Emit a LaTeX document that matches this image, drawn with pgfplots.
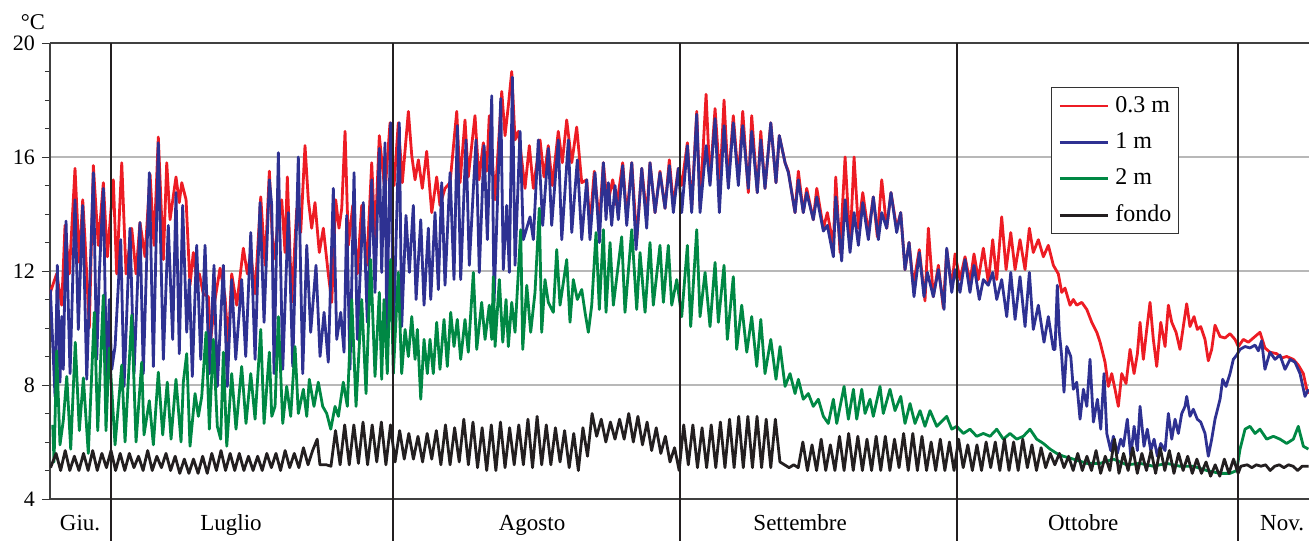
\documentclass[border=0pt]{standalone}
\usepackage{fontspec}
\setmainfont{Liberation Serif}
\usepackage{pgfplots}
\pgfplotsset{compat=1.18}
\definecolor{cred}{RGB}{237,28,36}
\definecolor{cblue}{RGB}{46,49,146}
\definecolor{cgreen}{RGB}{0,136,68}
\definecolor{cblack}{RGB}{35,31,32}
\begin{document}
\begin{tikzpicture}
\begin{axis}[
  name=ax,
  scale only axis, width=629.5pt, height=228pt,
  xmin=-6.66, xmax=130.74, ymin=4, ymax=20,
  axis y line*=left,
  xtick=\empty,
  ytick={4,8,12,16,20},
  minor y tick num=3,
  ymajorgrids,
  grid style={draw=black!28, line width=0.7pt},
  tick align=outside,
  major tick length=4pt, minor tick length=2.5pt,
  every tick/.style={black!80, line width=0.5pt},
  axis line style={black!75, line width=0.6pt},
  /pgf/number format/assume math mode=true,
  yticklabel style={font=\fontsize{11}{12}\selectfont},
  legend cell align=left,
  legend image code/.code={\draw[#1] (0pt,0pt) -- (24pt,0pt);},
  legend style={at={(0.795,0.9035)}, anchor=north west,
    draw=black!80, line width=0.6pt, fill=white,
    font=\fontsize{12}{13}\selectfont,
    inner xsep=3.5pt, inner ysep=4.2pt, row sep=8.2pt, column sep=3pt,
    nodes={inner sep=0pt, text height=8pt, text depth=2pt}},
  every axis plot/.append style={line width=1.4pt, line join=round},
]
\addplot[cred] coordinates {
(-6.66,11.2) (-6.47,11.4) (-5.93,11.9) (-5.38,10.8) (-5.02,13.6) (-4.55,11.9) (-3.93,15.6) (-3.46,12.3)
(-3.09,14.5) (-2.84,13.1) (-2.37,10.0) (-1.93,15.7) (-1.39,12.9) (-0.84,15.1) (-0.40,12.5) (0.25,15.2)
(0.62,11.9) (1.17,15.8) (1.64,11.9) (2.26,13.5) (2.73,11.9) (3.16,13.7) (3.71,12.5) (4.26,15.4)
(4.69,12.9) (5.16,16.7) (5.71,12.4) (6.08,15.8) (6.44,13.8) (7.09,15.3) (7.45,14.4) (7.72,15.1)
(8.19,14.5) (8.62,11.5) (8.98,12.65) (9.35,11.7) (9.64,11.9) (10.07,11.2) (10.62,11.1) (10.88,9.6)
(11.35,11.0) (11.90,12.1) (12.44,11.1) (12.80,9.4) (13.17,11.9) (13.72,10.8) (14.44,12.8) (14.88,11.9)
(15.25,12.65) (15.72,11.2) (16.34,14.6) (16.81,12.2) (17.28,15.5) (17.71,12.4) (18.63,14.5) (18.99,12.65)
(19.24,15.3) (19.72,10.9) (20.27,14.2) (20.70,13.35) (21.17,16.4) (21.53,14.5) (21.90,13.5) (22.26,14.4)
(22.73,12.65) (23.17,13.5) (23.71,11.9) (24.09,10.9) (24.52,14.5) (24.88,13.5) (25.18,14.2) (25.54,16.9)
(25.90,12.9) (26.38,14.3) (26.88,11.9) (27.36,14.3) (27.91,12.2) (28.45,15.8) (28.81,13.1) (29.28,16.75)
(29.90,14.75) (30.45,17.2) (30.89,15.0) (31.35,17.2) (31.79,15.1) (32.45,17.6) (32.82,16.05) (33.18,15.2)
(33.54,15.9) (33.97,14.9) (34.45,16.2) (35.00,14.05) (35.54,15.3) (35.90,14.3) (36.45,14.9) (37.00,15.1)
(37.73,17.6) (38.09,15.1) (38.63,17.3) (38.99,15.3) (39.72,17.45) (40.16,15.2) (40.63,16.5) (41.00,15.5)
(41.28,17.45) (41.91,14.5) (42.64,18.3) (43.00,16.75) (43.36,17.8) (43.73,19.0) (44.09,16.6) (44.45,16.9)
(44.82,15.9) (45.18,14.9) (45.65,16.4) (46.09,14.9) (46.82,16.6) (47.25,15.3) (47.72,16.4) (48.16,15.0)
(48.81,16.9) (49.25,15.8) (49.73,17.3) (50.28,15.8) (50.82,17.05) (51.37,15.1) (51.91,15.2) (52.27,13.6)
(52.74,15.5) (53.29,13.7) (53.73,15.8) (54.16,14.3) (54.75,15.2) (55.19,14.3) (55.84,15.8) (56.28,13.9)
(56.83,15.8) (57.37,13.1) (57.92,15.6) (58.46,13.9) (58.82,15.8) (59.37,14.05) (59.91,15.5) (60.46,14.2)
(60.93,15.9) (61.37,14.3) (61.91,15.6) (62.28,15.0) (62.90,16.5) (63.37,14.2) (63.92,17.6) (64.28,14.3)
(64.94,18.2) (65.37,15.1) (65.92,17.7) (66.46,15.1) (66.90,18.0) (67.37,15.1) (67.91,17.45) (68.46,15.2)
(68.94,17.6) (69.55,14.75) (69.92,17.45) (70.53,14.75) (70.91,16.9) (71.37,14.9) (72.00,17.2) (72.57,15.1)
(72.93,16.75) (73.56,15.8) (73.92,15.5) (74.65,14.05) (75.01,15.5) (75.55,14.05) (75.92,14.9) (76.64,13.8)
(77.02,14.9) (77.74,13.5) (78.17,14.05) (78.83,12.9) (79.09,15.3) (79.56,12.65) (80.11,16.0) (80.65,12.9)
(81.09,16.0) (81.56,13.5) (82.04,14.75) (82.65,13.35) (83.19,14.6) (83.63,13.2) (84.11,15.2) (84.65,13.5)
(85.12,14.75) (85.74,13.5) (86.18,14.05) (86.65,12.05) (87.09,13.0) (87.56,11.5) (88.21,12.75) (88.83,10.95)
(89.20,13.5) (89.74,11.1) (90.29,12.2) (90.83,10.7) (91.20,12.75) (91.75,11.4) (92.11,12.6) (92.65,11.7)
(93.20,12.5) (93.74,11.6) (94.18,12.6) (94.65,11.7) (95.20,12.8) (95.74,11.6) (96.22,13.1) (96.66,11.7)
(97.20,13.9) (97.68,12.05) (98.19,13.35) (98.66,12.05) (99.20,13.1) (99.75,12.05) (100.22,13.5) (100.65,12.65)
(101.20,13.1) (101.75,12.5) (102.29,12.9) (102.84,12.2) (103.38,11.9) (103.75,11.25) (104.11,11.4) (104.66,10.8)
(105.02,11.0) (105.39,10.8) (105.94,10.9) (106.49,10.65) (107.03,10.2) (107.58,9.85) (107.94,9.5) (108.48,8.8)
(108.84,7.95) (109.21,8.4) (109.57,7.85) (109.93,7.25) (110.30,8.4) (110.77,8.05) (111.21,9.25) (111.65,8.4)
(112.01,9.1) (112.30,10.2) (112.66,8.9) (113.03,9.95) (113.39,10.9) (113.75,9.6) (114.12,8.65) (114.56,10.2)
(115.03,9.35) (115.39,10.8) (115.76,10.2) (116.23,9.85) (116.66,9.25) (117.02,10.05) (117.39,10.85) (117.75,10.05)
(118.19,10.4) (118.55,9.95) (118.92,10.05) (119.39,9.6) (119.75,8.85) (120.12,9.25) (120.48,10.1) (121.03,9.7)
(121.57,9.65) (122.12,9.8) (122.66,9.6) (123.03,9.35) (123.57,9.6) (124.12,9.5) (124.66,9.65) (125.39,9.85)
(125.93,9.3) (126.48,9.15) (127.21,9.1) (127.76,8.95) (128.30,9.0) (129.03,8.9) (129.57,8.7) (130.12,8.4)
(130.49,7.85) (130.74,7.7)
};
\addlegendentry{0.3 m}
\addplot[cblue] coordinates {
(-6.62,11.35) (-6.11,7.6) (-5.86,12.2) (-5.57,8.1) (-5.38,10.4) (-5.21,8.55) (-4.91,13.75) (-4.47,8.4)
(-3.93,14.5) (-3.57,9.95) (-3.09,14.3) (-2.65,8.2) (-1.93,15.45) (-1.56,8.9) (-1.28,11.9) (-0.84,14.9)
(-0.47,7.95) (-0.19,11.0) (0.08,8.55) (0.44,9.35) (1.06,13.1) (1.42,7.95) (2.07,13.5) (2.51,8.4)
(3.16,13.7) (3.52,8.4) (4.18,15.45) (4.62,8.65) (5.16,16.5) (5.71,8.9) (6.25,13.6) (6.73,9.6)
(7.09,14.75) (7.45,9.1) (7.82,14.3) (8.26,9.85) (8.55,11.7) (8.87,8.3) (9.35,12.9) (9.79,8.9)
(10.26,12.9) (10.73,8.4) (11.24,12.2) (11.60,7.95) (12.26,12.2) (12.69,7.95) (13.17,11.7) (13.61,8.9)
(14.26,11.7) (14.70,9.0) (15.25,13.35) (15.72,8.9) (16.26,14.4) (16.70,10.2) (17.28,15.2) (17.54,14.3)
(17.79,8.4) (18.26,16.15) (18.74,8.55) (19.35,14.05) (19.83,8.65) (20.44,16.0) (20.92,8.4) (21.36,12.9)
(21.79,9.85) (22.37,12.2) (22.81,9.0) (23.25,10.55) (23.71,8.8) (24.26,14.9) (24.63,9.6) (25.07,10.55)
(25.43,9.15) (25.72,13.95) (26.08,8.55) (26.52,15.45) (26.88,9.6) (27.53,14.4) (27.97,10.2) (28.45,15.2)
(28.81,11.25) (29.28,16.3) (29.54,11.95) (29.90,16.5) (30.09,9.85) (30.52,17.2) (30.81,9.6) (31.46,17.2)
(31.72,10.05) (32.19,13.95) (32.56,11.95) (32.99,14.3) (33.29,11.0) (33.80,13.8) (34.16,10.8) (34.63,13.5)
(34.89,11.0) (35.36,14.05) (35.72,11.35) (36.09,15.1) (36.45,11.5) (37.00,15.45) (37.43,11.7) (37.79,17.1)
(38.16,11.7) (38.74,16.6) (39.10,12.2) (39.83,16.6) (40.19,11.95) (40.71,16.4) (41.07,13.1) (41.55,18.15)
(41.80,10.9) (42.16,14.3) (42.53,18.05) (42.81,12.05) (43.18,14.3) (43.47,11.95) (43.80,18.8) (44.09,12.2)
(44.64,16.9) (45.00,13.1) (45.73,13.9) (46.09,13.1) (46.63,16.6) (47.11,13.6) (47.72,16.3) (48.09,13.6)
(48.81,16.6) (49.19,13.1) (49.91,16.6) (50.28,13.35) (50.89,15.9) (51.37,13.1) (51.91,15.2) (52.27,13.1)
(52.82,15.45) (53.29,13.0) (53.73,15.8) (54.02,13.8) (54.27,15.1) (54.64,13.6) (55.00,15.0) (55.36,13.8)
(55.84,15.7) (56.28,13.6) (56.83,15.8) (57.30,12.75) (57.92,15.6) (58.46,13.5) (58.82,15.8) (59.37,14.05)
(59.91,15.45) (60.46,14.2) (60.93,15.7) (61.37,14.05) (61.91,15.6) (62.28,14.05) (62.90,16.4) (63.37,14.05)
(63.92,17.5) (64.28,14.05) (64.94,16.4) (65.37,15.0) (65.92,17.35) (66.39,14.05) (66.90,17.1) (67.37,14.9)
(67.91,17.2) (68.46,15.0) (68.94,17.1) (69.55,14.9) (69.92,16.9) (70.53,14.75) (70.91,16.6) (71.37,14.9)
(72.00,17.2) (72.57,15.1) (72.93,16.75) (73.56,15.8) (73.92,15.45) (74.65,14.05) (75.01,15.2) (75.55,14.05)
(75.92,14.75) (76.64,13.8) (77.02,14.6) (77.74,13.4) (78.17,13.6) (78.83,12.5) (79.09,14.6) (79.74,12.35)
(80.11,14.5) (80.65,12.65) (81.09,14.05) (81.56,12.9) (82.04,14.4) (82.65,13.1) (83.19,14.6) (83.74,13.1)
(84.11,14.05) (84.65,13.5) (85.12,14.75) (85.74,13.35) (86.18,14.05) (86.65,12.05) (87.09,13.0) (87.63,11.1)
(88.21,12.65) (88.72,11.1) (89.09,11.95) (89.74,11.1) (90.29,12.05) (90.91,10.65) (91.20,12.8) (91.75,11.25)
(92.11,12.05) (92.65,11.25) (93.20,12.4) (93.74,11.25) (94.18,12.2) (94.76,11.0) (95.20,11.7) (95.74,11.5)
(96.22,11.95) (96.66,11.0) (97.20,11.7) (97.75,10.4) (98.19,11.95) (98.66,10.3) (99.20,11.8) (99.75,10.05)
(100.22,11.95) (100.65,9.95) (101.20,10.8) (101.82,9.5) (102.29,10.4) (102.84,9.25) (103.02,9.25) (103.27,11.5)
(103.49,9.85) (103.75,9.0) (104.00,7.75) (104.30,9.35) (104.74,9.0) (105.02,7.85) (105.39,8.1) (105.75,6.8)
(106.12,7.85) (106.49,7.25) (106.84,8.9) (107.21,6.7) (107.65,7.5) (108.01,6.45) (108.37,8.4) (108.67,6.3)
(109.10,5.7) (109.39,6.2) (109.82,5.6) (110.19,6.1) (110.48,5.85) (110.91,6.8) (111.29,5.5) (111.65,6.55)
(112.01,5.7) (112.30,7.25) (112.73,5.85) (113.09,6.45) (113.47,5.7) (113.83,6.1) (114.19,5.5) (114.56,5.95)
(115.03,5.7) (115.39,7.0) (115.76,6.1) (116.12,6.8) (116.48,6.3) (116.85,7.0) (117.21,7.25) (117.39,7.6)
(117.75,6.9) (118.11,7.15) (118.55,6.8) (118.92,6.7) (119.39,6.3) (119.75,5.5) (120.12,6.1) (120.48,6.8)
(121.03,7.5) (121.32,8.2) (121.68,7.95) (122.12,8.4) (122.48,8.9) (122.85,9.05) (123.21,9.25) (123.76,9.35)
(124.30,9.3) (124.85,9.4) (125.21,9.2) (125.57,9.55) (125.93,8.55) (126.48,9.15) (127.03,8.9) (127.57,9.05)
(128.12,8.55) (128.67,8.9) (129.21,8.8) (129.76,8.4) (130.30,7.6) (130.67,7.85)
};
\addlegendentry{1 m}
\addplot[cgreen] coordinates {
(-6.36,6.6) (-6.22,5.3) (-5.93,9.2) (-5.57,5.9) (-5.21,6.75) (-4.83,8.3) (-4.40,5.75) (-3.90,9.5)
(-3.46,6.4) (-3.02,8.25) (-2.48,5.6) (-1.82,10.55) (-1.45,6.4) (-0.84,11.15) (-0.55,6.4) (-0.19,9.3)
(0.44,5.9) (1.17,8.7) (1.53,6.0) (2.26,10.45) (2.73,6.0) (3.35,8.8) (3.60,6.25) (4.18,7.45)
(4.62,5.9) (5.16,8.45) (5.64,6.25) (6.14,8.1) (6.55,6.1) (7.09,8.2) (7.64,6.0) (7.89,8.1)
(8.26,9.1) (8.62,5.85) (9.17,7.7) (9.53,6.9) (9.90,7.6) (10.37,9.85) (10.73,6.45) (11.16,9.6)
(11.60,6.55) (11.97,6.1) (12.26,9.15) (12.63,5.85) (13.17,8.4) (13.64,6.45) (14.26,8.65) (14.73,6.65)
(15.25,8.4) (15.72,6.8) (16.34,9.95) (16.70,6.65) (17.28,9.15) (17.54,6.9) (17.90,7.25) (18.26,10.4)
(18.74,6.65) (19.17,7.95) (19.61,6.9) (20.08,9.35) (20.44,7.0) (20.99,7.85) (21.36,6.9) (21.64,8.2)
(22.15,7.25) (22.62,8.1) (23.10,7.25) (23.54,7.0) (23.98,6.45) (24.45,7.25) (24.81,6.9) (25.35,8.1)
(25.79,7.25) (26.27,11.0) (26.74,7.25) (27.36,11.0) (27.83,7.7) (28.34,12.4) (28.81,8.3) (29.28,11.25)
(29.54,8.2) (29.79,11.0) (30.15,8.4) (30.52,12.4) (30.81,8.4) (31.35,11.95) (31.72,8.4) (32.09,9.95)
(32.45,9.0) (32.82,10.4) (33.18,8.9) (33.43,9.95) (33.80,7.5) (34.16,9.6) (34.52,8.4) (34.81,9.6)
(35.17,8.4) (35.54,10.2) (35.90,8.55) (36.34,10.3) (36.70,8.65) (37.07,10.55) (37.43,9.35) (37.79,10.3)
(38.16,8.9) (38.63,10.3) (38.99,9.15) (39.54,11.95) (39.91,9.25) (40.45,10.9) (40.82,9.6) (41.28,10.8)
(41.55,9.6) (41.72,11.8) (41.91,9.35) (42.38,11.7) (42.75,9.5) (43.11,11.0) (43.36,9.35) (43.73,10.9)
(44.09,9.85) (44.71,13.45) (44.93,9.25) (45.37,11.5) (45.80,9.85) (46.27,11.25) (46.74,14.2) (47.00,9.85)
(47.36,11.7) (47.72,10.9) (48.27,10.55) (48.64,12.75) (49.00,10.8) (49.73,12.4) (50.09,10.2) (50.45,11.7)
(50.89,11.0) (51.37,11.35) (51.73,10.55) (52.09,9.85) (52.46,10.8) (52.93,13.35) (53.29,10.65) (53.73,13.45)
(54.02,10.55) (54.46,13.0) (54.82,10.8) (55.73,13.2) (56.09,10.55) (56.83,13.45) (57.37,10.65) (57.73,12.65)
(58.28,10.55) (58.82,13.0) (59.18,10.8) (59.91,12.9) (60.28,10.9) (60.82,12.9) (61.19,10.8) (61.74,11.7)
(62.28,10.4) (62.90,12.9) (63.26,10.05) (63.92,13.45) (64.28,10.4) (64.83,11.95) (65.37,10.05) (65.92,12.3)
(66.28,10.2) (66.90,12.2) (67.26,9.6) (67.91,11.8) (68.28,9.25) (68.83,10.8) (69.38,9.15) (69.92,10.4)
(70.47,8.65) (70.91,10.3) (71.37,8.4) (72.00,9.6) (72.57,8.2) (73.01,9.35) (73.56,7.95) (74.10,8.4)
(74.65,7.7) (75.01,8.2) (75.55,7.5) (76.10,7.7) (76.64,7.25) (77.19,7.5) (77.74,6.9) (78.28,6.65)
(78.83,7.5) (79.20,6.65) (79.63,7.35) (80.00,7.95) (80.47,6.8) (81.02,7.85) (81.38,6.8) (81.93,7.85)
(82.29,7.0) (82.83,7.5) (83.19,6.9) (83.92,7.95) (84.28,7.0) (85.01,7.85) (85.56,7.1) (86.18,7.6)
(86.65,6.65) (87.20,7.35) (87.74,6.65) (88.29,7.1) (88.83,6.55) (89.38,7.1) (90.11,6.55) (91.20,6.9)
(91.75,6.45) (92.29,6.55) (93.02,6.3) (93.74,6.45) (94.47,6.2) (95.20,6.3) (95.93,6.2) (96.66,6.45)
(97.38,6.1) (98.11,6.3) (98.84,6.1) (99.56,6.2) (100.29,6.45) (101.02,6.1) (101.75,5.95) (102.48,5.75)
(103.21,5.6) (103.93,5.5) (105.02,5.4) (106.49,5.25) (107.94,5.25) (109.39,5.4) (110.85,5.2) (112.30,5.25)
(113.75,5.15) (115.21,5.25) (116.66,5.15) (118.11,5.15) (119.58,5.0) (121.03,4.9) (122.12,4.9) (122.85,5.0)
(123.21,5.75) (123.76,6.45) (124.30,6.55) (124.85,6.3) (125.39,6.45) (126.12,6.1) (126.85,6.2) (127.57,6.1)
(128.30,5.95) (129.03,6.1) (129.57,6.55) (130.12,5.85) (130.67,5.75)
};
\addlegendentry{2 m}
\addplot[cblack] coordinates {
(-6.6,5.1) (-6.0,5.6) (-5.5,5.0) (-5.0,5.7) (-4.5,5.0) (-4.0,5.5) (-3.5,5.0) (-3.0,5.6)
(-2.5,5.0) (-2.0,5.7) (-1.5,5.0) (-1.0,5.6) (-0.5,5.1) (0.0,5.7) (0.5,5.0) (1.0,5.6)
(1.5,5.0) (2.0,5.6) (2.5,5.1) (3.0,5.5) (3.5,5.0) (4.0,5.7) (4.5,5.0) (5.0,5.5)
(5.5,5.1) (6.0,5.6) (6.5,5.0) (7.0,5.5) (7.5,4.9) (8.0,5.4) (8.5,4.9) (9.0,5.4)
(9.5,4.9) (10.0,5.5) (10.5,4.9) (11.0,5.6) (11.5,5.0) (12.0,5.7) (12.5,5.0) (13.0,5.6)
(13.5,5.0) (14.0,5.6) (14.5,5.0) (15.0,5.5) (15.5,5.0) (16.0,5.5) (16.5,5.0) (17.0,5.6)
(17.5,5.1) (18.0,5.6) (18.5,5.0) (19.0,5.7) (19.5,5.1) (20.0,5.6) (20.5,5.1) (21.0,5.8)
(21.5,5.2) (22.0,5.7) (22.5,6.1) (22.8,5.2) (23.5,5.2) (24.0,5.15) (24.5,6.4) (25.0,5.2)
(25.5,6.6) (26.0,5.2) (26.5,6.6) (27.0,5.25) (27.5,6.7) (28.0,5.2) (28.5,6.6) (29.0,5.3)
(29.5,6.7) (30.0,5.2) (30.5,6.6) (31.0,5.3) (31.5,6.4) (32.0,5.4) (32.5,6.3) (33.0,5.4)
(33.5,6.2) (34.0,5.3) (34.5,6.3) (35.0,5.4) (35.5,6.4) (36.0,5.2) (36.5,6.6) (37.0,5.2)
(37.5,6.5) (38.0,5.3) (38.5,6.8) (39.0,5.2) (39.5,6.7) (40.0,5.1) (40.5,6.5) (41.0,5.0)
(41.5,6.6) (42.0,5.0) (42.5,6.7) (43.0,5.1) (43.5,6.5) (44.0,5.2) (44.5,6.6) (45.0,5.2)
(45.5,6.8) (46.0,5.1) (46.5,6.9) (47.0,5.2) (47.5,6.6) (48.0,5.2) (48.5,6.5) (49.0,5.3)
(49.5,6.4) (50.0,5.1) (50.5,6.3) (51.0,5.0) (51.5,6.5) (52.0,5.5) (52.5,7.0) (53.0,6.2)
(53.5,6.8) (54.0,6.0) (54.5,6.7) (55.0,6.1) (55.5,6.8) (56.0,6.1) (56.5,7.0) (57.0,6.0)
(57.5,6.9) (58.0,5.9) (58.5,6.7) (59.0,5.7) (59.5,6.5) (60.0,5.6) (60.5,6.2) (61.0,5.3)
(61.5,5.8) (62.0,5.0) (62.5,6.6) (63.0,5.2) (63.5,6.6) (64.0,5.1) (64.5,6.5) (65.0,5.1)
(65.5,6.6) (66.0,5.1) (66.5,6.7) (67.0,5.1) (67.5,6.8) (68.0,5.1) (68.5,6.9) (69.0,5.1)
(69.5,6.9) (70.0,5.1) (70.5,6.9) (71.0,5.1) (71.5,6.8) (72.0,5.1) (72.5,6.8) (73.0,5.3)
(73.5,5.2) (74.0,5.1) (74.5,5.2) (75.0,5.1) (75.5,6.0) (76.0,5.0) (76.5,5.9) (77.0,5.0)
(77.5,6.1) (78.0,5.0) (78.5,5.9) (79.0,5.0) (79.5,6.2) (80.0,5.0) (80.5,6.3) (81.0,5.0)
(81.5,6.2) (82.0,5.0) (82.5,6.1) (83.0,5.0) (83.5,6.2) (84.0,5.0) (84.5,6.2) (85.0,5.0)
(85.5,6.1) (86.0,5.1) (86.5,6.3) (87.0,5.0) (87.5,6.3) (88.0,5.0) (88.5,6.2) (89.0,5.0)
(89.5,6.0) (90.0,5.0) (90.5,6.1) (91.0,5.0) (91.5,6.0) (92.0,5.0) (92.5,6.1) (93.0,5.1)
(93.5,5.9) (94.0,5.0) (94.5,5.9) (95.0,5.0) (95.5,6.0) (96.0,5.1) (96.5,6.0) (97.0,5.0)
(97.5,6.1) (98.0,5.0) (98.5,6.0) (99.0,5.0) (99.5,6.1) (100.0,5.1) (100.5,5.9) (101.0,5.0)
(101.5,5.8) (102.0,5.1) (102.5,5.6) (103.0,5.2) (103.5,5.6) (104.0,5.1) (104.5,5.5) (105.0,5.0)
(105.5,5.6) (106.0,5.0) (106.5,5.5) (107.0,5.0) (107.5,5.7) (108.0,4.9) (108.5,5.5) (109.0,5.0)
(109.5,6.1) (110.0,4.9) (110.5,5.6) (111.0,5.0) (111.5,5.8) (112.0,4.9) (112.5,5.6) (113.0,5.0)
(113.5,5.7) (114.0,4.9) (114.5,5.8) (115.0,5.0) (115.5,5.7) (116.0,4.9) (116.5,5.6) (117.0,5.0)
(117.5,5.5) (118.0,4.9) (118.5,5.4) (119.0,4.9) (119.5,5.3) (120.0,4.8) (120.5,5.2) (121.0,4.8)
(121.5,5.4) (122.0,4.9) (122.5,5.4) (123.0,4.9) (123.3,5.15) (124.0,5.2) (124.5,5.1) (125.0,5.2)
(125.5,5.15) (126.0,5.2) (126.5,5.0) (127.0,5.15) (127.5,5.2) (128.0,5.1) (128.5,5.2) (129.0,5.15)
(129.5,5.0) (130.0,5.15) (130.7,5.15)
};
\addlegendentry{fondo}
\coordinate (SW) at (rel axis cs:0,0);
\coordinate (NE) at (rel axis cs:1,1);
\coordinate (m0) at (axis cs:0,4);
\coordinate (m1) at (axis cs:30.78,4);
\coordinate (m2) at (axis cs:62.1,4);
\coordinate (m3) at (axis cs:92.33,4);
\coordinate (m4) at (axis cs:123.0,4);
\coordinate (l0) at (axis cs:-3.38,4);
\coordinate (l1) at (axis cs:13.1,4);
\coordinate (l2) at (axis cs:45.95,4);
\coordinate (l3) at (axis cs:75.2,4);
\coordinate (l4) at (axis cs:106.1,4);
\coordinate (l5) at (axis cs:127.8,4);
\end{axis}
\foreach \m in {m0,m1,m2,m3,m4}{
  \draw[cblack, line width=1.1pt] (\m |- NE) -- ([yshift=-21pt]\m);
}
\foreach \l/\t in {l0/Giu.,l1/Luglio,l2/Agosto,l3/Settembre,l4/Ottobre,l5/Nov.}{
  \node[anchor=base, inner sep=0pt, font=\fontsize{11.5}{13}\selectfont] at ([yshift=-15.5pt]\l) {\t};
}
\node[font=\fontsize{11.25}{13}\selectfont, inner sep=0pt] at ([xshift=-8.5pt, yshift=10.5pt]SW |- NE) {°C};
\pgfresetboundingbox
\path ([xshift=-25pt,yshift=-21pt]SW) rectangle ([yshift=21.5pt]NE);
\end{tikzpicture}
\end{document}
